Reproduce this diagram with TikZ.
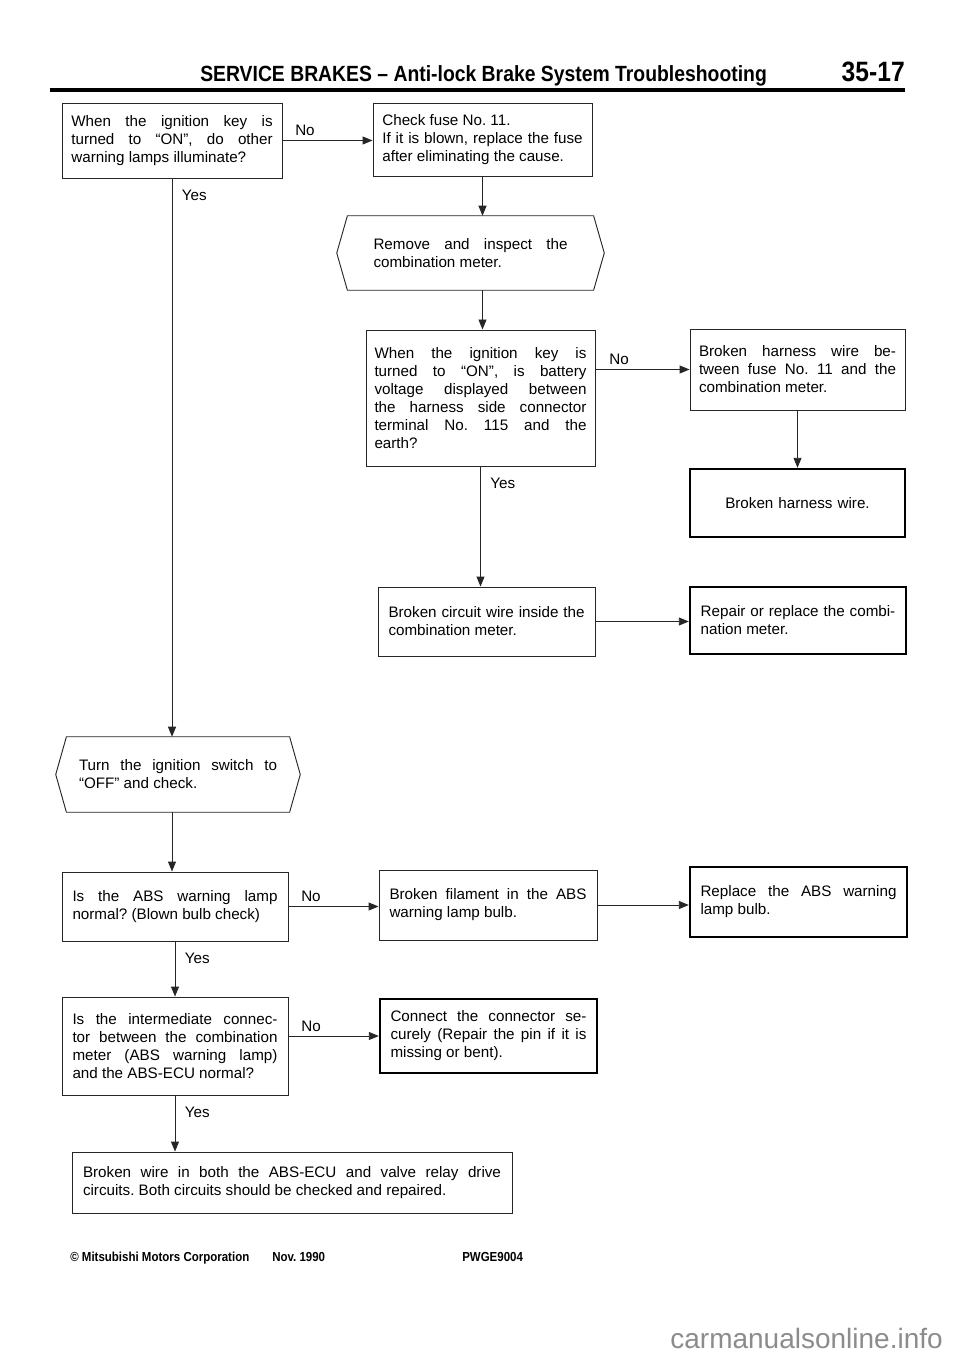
\documentclass[tikz,border=0pt]{standalone}
\usepackage{fontspec}
\setmainfont{Liberation Sans}
\newfontfamily\condfont[FakeStretch=0.88]{Liberation Sans}
\usetikzlibrary{arrows.meta}
\tolerance=10000
\hbadness=10000
\frenchspacing
\begin{document}
\begin{tikzpicture}[x=0.75pt,y=-0.75pt,
  every node/.style={font=\fontsize{11.4}{13.5}\selectfont},
  box/.style={draw=black!85, line width=0.7pt, align=justify, inner xsep=0pt, inner ysep=0pt},
  endbox/.style={box, draw=black, line width=1.8pt},
  hexnode/.style={align=justify, inner sep=0pt},
  hexline/.style={draw=black!85, line width=0.7pt},
  arr/.style={draw=black!85, line width=0.7pt, -{Triangle[length=7.5pt,width=6pt]}},
  nolbl/.style={pos=0.25, above=2pt, inner sep=1pt},
  yeslbl/.style={at start, anchor=west, xshift=6pt, yshift=-13pt, inner sep=1pt},
  hdr/.style={inner sep=0pt, font=\condfont\bfseries\fontsize{16.5}{18}\selectfont},
  ftr/.style={inner sep=0pt, anchor=base west, font=\condfont\bfseries\fontsize{9.8}{11}\selectfont},
]
\path[use as bounding box, fill=white] (0,0) rectangle (960,1358);

% header
\node[hdr, anchor=base west] (title) at (200,82) {SERVICE BRAKES – Anti-lock Brake System Troubleshooting};
\node[hdr, anchor=base east, font=\condfont\bfseries\fontsize{21}{22}\selectfont] (pnum) at (905,82) {35-17};
\draw[line width=2.4pt] (50,90) -- (905,90);

% boxes
\node[box, minimum width=165pt, minimum height=56.25pt, text width=151pt] (b1) at (172,140.5)
  {When the ignition key is\linebreak turned to “ON”, do other\linebreak warning lamps illuminate?};
\node[box, minimum width=164.25pt, minimum height=54.75pt, text width=150.25pt] (b2) at (482.5,139.5)
  {Check fuse No. 11.\\ If it is blown, replace the fuse\linebreak after eliminating the cause.};
\node[hexnode, minimum width=200.25pt, minimum height=55.5pt, text width=145.5pt] (h1) at (470.5,253)
  {Remove and inspect the\linebreak combination meter.};
\draw[hexline] (h1.west) -- ([xshift=8pt]h1.north west) -- ([xshift=-8pt]h1.north east) -- (h1.east)
  -- ([xshift=-8pt]h1.south east) -- ([xshift=8pt]h1.south west) -- cycle;
\node[box, minimum width=171.75pt, minimum height=102pt, text width=159pt] (b3) at (480.5,398)
  {When the ignition key is\linebreak turned to “ON”, is battery\linebreak voltage displayed between\linebreak the harness side connector\linebreak terminal No. 115 and the\linebreak earth?};
\node[box, minimum width=161.25pt, minimum height=60.75pt, text width=147.75pt] (b4) at (797.5,369.5)
  {Broken harness wire be-\linebreak tween fuse No. 11 and the\linebreak combination meter.};
\node[endbox, minimum width=161.25pt, minimum height=51pt, text width=147.75pt, align=center] (b5) at (797.5,503)
  {Broken harness wire.};
\node[box, minimum width=162.75pt, minimum height=51.75pt, text width=147pt] (b6) at (486.5,621.5)
  {Broken circuit wire inside the\linebreak combination meter.};
\node[endbox, minimum width=162pt, minimum height=50.25pt, text width=146pt] (b7) at (798,620.5)
  {Repair or replace the combi-\linebreak nation meter.};
\node[hexnode, minimum width=183pt, minimum height=56.25pt, text width=148.5pt] (h2) at (178,774.5)
  {Turn the ignition switch to\linebreak “OFF” and check.};
\draw[hexline] (h2.west) -- ([xshift=8pt]h2.north west) -- ([xshift=-8pt]h2.north east) -- (h2.east)
  -- ([xshift=-8pt]h2.south east) -- ([xshift=8pt]h2.south west) -- cycle;
\node[box, minimum width=169.5pt, minimum height=51.75pt, text width=153.75pt] (b8) at (175,906.5)
  {Is the ABS warning lamp\linebreak normal? (Blown bulb check)};
\node[box, minimum width=163.5pt, minimum height=52.5pt, text width=147.75pt] (b9) at (488,905)
  {Broken filament in the ABS\linebreak warning lamp bulb.};
\node[endbox, minimum width=162.75pt, minimum height=52.5pt, text width=147pt] (b10) at (798.5,902)
  {Replace the ABS warning\linebreak lamp bulb.};
\node[box, minimum width=169.5pt, minimum height=73.5pt, text width=153.75pt] (b11) at (175,1046)
  {Is the intermediate connec-\linebreak tor between the combination\linebreak meter (ABS warning lamp)\linebreak and the ABS-ECU normal?};
\node[endbox, minimum width=162.75pt, minimum height=55.5pt, text width=147pt] (b12) at (488.5,1036)
  {Connect the connector se-\linebreak curely (Repair the pin if it is\linebreak missing or bent).};
\node[box, minimum width=330pt, minimum height=45.75pt, text width=313.5pt] (b13) at (292,1182.5)
  {Broken wire in both the ABS-ECU and valve relay drive\linebreak circuits. Both circuits should be checked and repaired.};

% connectors
\draw[arr] (b1.east) -- node[nolbl]{No} (b1.east -| b2.west);
\draw[arr] (b2.south) -- (b2.south |- h1.north);
\draw[arr] (b2.south |- h1.south) -- (b2.south |- b3.north);
\draw[arr] (b3.east |- b4.west) -- node[nolbl]{No} (b4.west);
\draw[arr] (b4.south) -- (b5.north);
\draw[arr] (b3.south) -- node[yeslbl]{Yes} (b3.south |- b6.north);
\draw[arr] (b6.east) -- (b6.east -| b7.west);
\draw[arr] (b1.south) -- node[yeslbl]{Yes} (b1.south |- h2.north);
\draw[arr] (b1.south |- h2.south) -- (b1.south |- b8.north);
\draw[arr] (b8.east) -- node[nolbl]{No} (b8.east -| b9.west);
\draw[arr] (b9.east) -- (b9.east -| b10.west);
\draw[arr] (b8.south) -- node[yeslbl]{Yes} (b8.south |- b11.north);
\draw[arr] (b11.east |- b12.west) -- node[nolbl]{No} (b12.west);
\draw[arr] (b11.south) -- node[yeslbl]{Yes} (b11.south |- b13.north);

% footer
\node[ftr] (copy) at (70,1261) {© Mitsubishi Motors Corporation};
\node[ftr] (nov) at (272,1261) {Nov. 1990};
\node[ftr] (code) at (462,1261) {PWGE9004};
\node[anchor=base east, inner sep=0pt, font=\fontsize{21}{24}\selectfont, text=black!45] (wm) at (943,1348) {carmanualsonline.info};
\end{tikzpicture}
\end{document}
